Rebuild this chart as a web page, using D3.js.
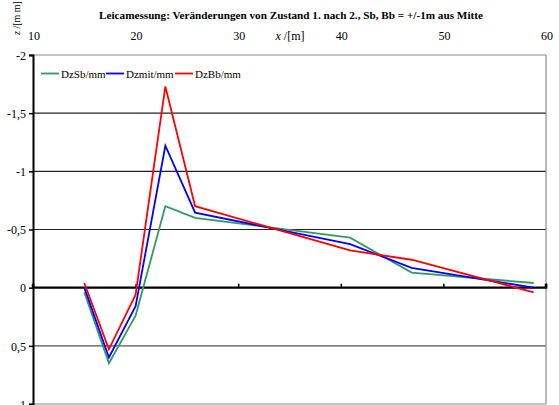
<!DOCTYPE html>
<html>
<head>
<meta charset="utf-8">
<script src="https://cdn.jsdelivr.net/npm/d3@7"></script>
<style>
  html, body { margin: 0; padding: 0; background: #fff; }
  svg { display: block; }
</style>
</head>
<body>
<svg id="chart" width="559" height="405"></svg>
<script>
// Station positions along the measured line, in metres
const stations = [15.0, 17.4, 20.0, 22.9, 25.8, 40.9, 46.9, 58.8];
// Height changes between state 1 and state 2, in mm
const dzSb  = [0.04, 0.65, 0.24, -0.70, -0.60, -0.43, -0.13, -0.04];
const dzMit = [0.00, 0.60, 0.16, -1.22, -0.645, -0.375, -0.17, 0.00];
const dzBb  = [-0.04, 0.53, 0.06, -1.73, -0.70, -0.32, -0.24, 0.04];

const seriesNames = ["DzSb/mm", "Dzmit/mm", "DzBb/mm"];
const seriesColors = ["#339966", "#0000ff", "#ff0000"];
const xTicks = [10, 20, 30, 40, 50, 60];
const yTicks = [-2, -1.5, -1, -0.5, 0, 0.5, 1];

const FONT = "Liberation Serif";
const svg = d3.select("#chart").attr("font-family", FONT);
const plotL = 33, plotR = 546, plotT = 55, plotB = 404;

const x = d3.scaleLinear().domain([10, 60]).range([plotL, plotR]);
const y = d3.scaleLinear().domain([-2, 1]).range([plotT, plotB]);

const fmt = v => String(v).replace(".", ",");

// Horizontal gridlines
svg.append("g").selectAll("line")
  .data(yTicks.filter(v => v !== 0))
  .join("line")
  .attr("x1", plotL).attr("x2", plotR)
  .attr("y1", d => y(d)).attr("y2", d => y(d))
  .attr("stroke", d => (d === -2 || d === 1) ? "#8a8a8a" : (d > 0 ? "#555" : "#222"))
  .attr("stroke-width", 1.2);

// Right border of the plot area
svg.append("line")
  .attr("x1", plotR).attr("x2", plotR).attr("y1", plotT).attr("y2", plotB)
  .attr("stroke", "#8a8a8a").attr("stroke-width", 1.2);

// Y axis on the left, values increasing downward
const yAxis = d3.axisLeft(y).tickValues(yTicks).tickFormat(fmt).tickSize(4).tickPadding(3);
const gy = svg.append("g").attr("transform", `translate(${plotL},0)`).call(yAxis)
  .attr("font-family", FONT).attr("font-size", 12);
gy.select(".domain").attr("stroke", "#000").attr("stroke-width", 2);
gy.selectAll(".tick line").attr("stroke", "#000").attr("stroke-width", 1.5);
gy.selectAll(".tick text").attr("fill", "#000").attr("dy", "0.36em");

// X axis running along the zero line, labels at the top of the chart
const xAxis = d3.axisTop(x).tickValues(xTicks).tickSize(4).tickFormat("");
const gx = svg.append("g").attr("transform", `translate(0,${y(0)})`).call(xAxis);
gx.select(".domain").attr("stroke", "#000").attr("stroke-width", 2.4).attr("d", `M${plotL},-4V0H${plotR}V-4`);
gx.selectAll(".tick line").attr("stroke", "#000").attr("stroke-width", 1.5);

svg.append("g").selectAll("text")
  .data(xTicks)
  .join("text")
  .attr("font-family", FONT)
  .attr("x", d => x(d) + 1)
  .attr("y", 40)
  .attr("text-anchor", "middle")
  .attr("font-size", 12)
  .text(d => d);

// Axis titles
svg.append("text")
  .attr("font-family", FONT)
  .attr("x", 290).attr("y", 40)
  .attr("text-anchor", "middle")
  .attr("font-size", 12)
  .html('<tspan font-style="italic">x</tspan> /[m]');

svg.append("text")
  .attr("font-family", FONT)
  .attr("transform", "translate(20,18) rotate(-90)")
  .attr("text-anchor", "middle")
  .attr("font-size", 10)
  .html('<tspan font-style="italic">z</tspan> /[m m]');

// Chart title
svg.append("text")
  .attr("font-family", FONT)
  .attr("x", 291).attr("y", 18.5)
  .attr("text-anchor", "middle")
  .attr("font-size", 11.2)
  .attr("font-weight", "bold")
  .text("Leicamessung: Veränderungen von Zustand 1. nach 2., Sb, Bb = +/-1m aus Mitte");

// Data lines
const allSeries = [dzSb, dzMit, dzBb];
const line = d3.line().x(d => x(d[0])).y(d => y(d[1]));
allSeries.forEach((vals, i) => {
  svg.append("path")
    .datum(stations.map((s, k) => [s, vals[k]]))
    .attr("fill", "none")
    .attr("stroke", seriesColors[i])
    .attr("stroke-width", 1.8)
    .attr("stroke-linejoin", "miter")
    .attr("d", line);
});

// Legend
const legendPos = [41, 106, 175];
const legend = svg.append("g");
seriesNames.forEach((name, i) => {
  const lx = legendPos[i];
  legend.append("line")
    .attr("x1", lx).attr("x2", lx + 18)
    .attr("y1", 73.5).attr("y2", 73.5)
    .attr("stroke", seriesColors[i]).attr("stroke-width", 1.8);
  legend.append("text")
    .attr("font-family", FONT)
    .attr("x", lx + 20).attr("y", 77.5)
    .attr("font-size", 11)
    .text(name);
});
</script>
</body>
</html>
